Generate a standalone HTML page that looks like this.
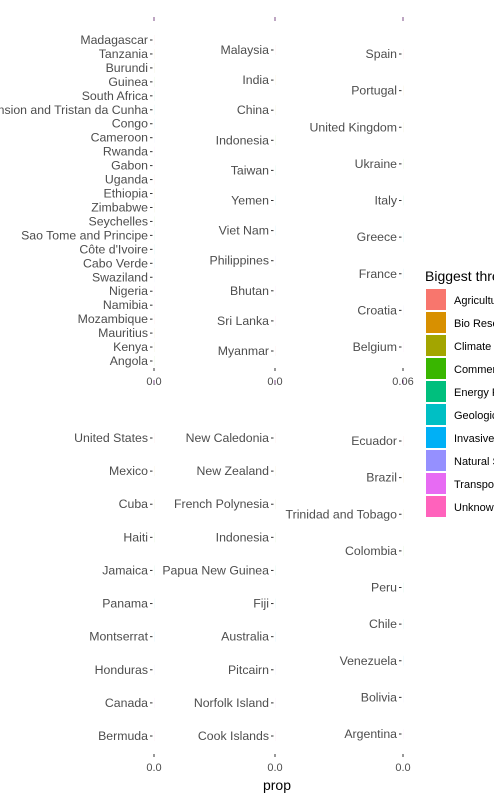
<!DOCTYPE html>
<html><head><meta charset="utf-8"><style>
body{margin:0;background:#fff;}
svg{display:block;font-family:"Liberation Sans",sans-serif;}
.lab{font-size:12.3px;fill:#4d4d4d;text-anchor:end;}
.tk{font-size:11px;fill:#4d4d4d;text-anchor:middle;}
</style></head><body>
<svg id="chart" width="494" height="800"></svg>
<script>
const panelNames=["Africa","Asia","Europe","North America","Oceania","South America"];
const africa=["Madagascar","Tanzania","Burundi","Guinea","South Africa","Ascension and Tristan da Cunha","Congo","Cameroon","Rwanda","Gabon","Uganda","Ethiopia","Zimbabwe","Seychelles","Sao Tome and Principe","Côte d'Ivoire","Cabo Verde","Swaziland","Nigeria","Namibia","Mozambique","Mauritius","Kenya","Angola"];
const asia=["Malaysia","India","China","Indonesia","Taiwan","Yemen","Viet Nam","Philippines","Bhutan","Sri Lanka","Myanmar"];
const europe=["Spain","Portugal","United Kingdom","Ukraine","Italy","Greece","France","Croatia","Belgium"];
const namerica=["United States","Mexico","Cuba","Haiti","Jamaica","Panama","Montserrat","Honduras","Canada","Bermuda"];
const oceania=["New Caledonia","New Zealand","French Polynesia","Indonesia","Papua New Guinea","Fiji","Australia","Pitcairn","Norfolk Island","Cook Islands"];
const samerica=["Ecuador","Brazil","Trinidad and Tobago","Colombia","Peru","Chile","Venezuela","Bolivia","Argentina"];
const africaVals=africa.map(()=>0.001);
const asiaVals=asia.map(()=>0.001);
const europeVals=europe.map(()=>0.001);
const namericaVals=namerica.map(()=>0.001);
const oceaniaVals=oceania.map(()=>0.001);
const samericaVals=samerica.map(()=>0.001);
const tickLabels=["0.0","0.0","0.06","0.0","0.0","0.0"];
const legendLabels=["Agriculture","Bio Resource Use","Climate Change","Commercial Dev.","Energy Production","Geological Events","Invasive Species","Natural System Mod.","Transportation","Unknown"];
const legendColors=["#F8766D","#D89000","#A3A500","#39B600","#00BF7D","#00BFC4","#00B0F6","#9590FF","#E76BF3","#FF62BC"];

const svg=document.getElementById('chart');
const NS='http://www.w3.org/2000/svg';
function mk(t,a){const e=document.createElementNS(NS,t);for(const k in a)e.setAttribute(k,a[k]);svg.appendChild(e);return e;}
const panels=[
 {names:africa,vals:africaVals,x:154,top:18,bot:368,first:40,last:361},
 {names:asia,vals:asiaVals,x:275,top:18,bot:368,first:50,last:351},
 {names:europe,vals:europeVals,x:403,top:18,bot:368,first:54,last:347},
 {names:namerica,vals:namericaVals,x:154,top:381,bot:754,first:438,last:736},
 {names:oceania,vals:oceaniaVals,x:275,top:381,bot:754,first:438,last:736},
 {names:samerica,vals:samericaVals,x:403,top:381,bot:754,first:441,last:734}];
panels.forEach((p,pi)=>{
  const n=p.names.length;
  const y=i=>p.first+(p.last-p.first)*i/(n-1);
  const xs=v=>v*50; // panel width squeezed to well under 1px
  const strip=mk('rect',{x:p.x-0.5,y:p.top-1,width:1,height:4,fill:'#440154','fill-opacity':0.7});
  
  
  p.names.forEach((nm,i)=>{
    const t=mk('text',{x:p.x-6,y:y(i)+4,class:'lab'});t.textContent=nm;
    
    
    mk('line',{x1:p.x-4,x2:p.x-1.5,y1:y(i),y2:y(i),stroke:'#333','stroke-width':1});
    const b=mk('rect',{x:p.x,y:y(i)-5,width:xs(p.vals[i]),height:10,fill:legendColors[i%10]});
    
    
  });
  mk('line',{x1:p.x,x2:p.x,y1:p.bot,y2:p.bot+3,stroke:'#333','stroke-width':1});
  const tt=mk('text',{x:p.x,y:p.bot+17,class:'tk'});tt.textContent=tickLabels[pi];
  
  
});
const xt=mk('text',{x:277,y:790,'font-size':14,'text-anchor':'middle',fill:'#000'});xt.textContent='prop';


const lt=mk('text',{x:425,y:281,'font-size':14,fill:'#000'});lt.textContent='Biggest threat';


legendLabels.forEach((l,i)=>{
  const yy=289+i*23;
  const r=mk('rect',{x:426,y:yy,width:20,height:21,fill:legendColors[i]});
  
  
  const t=mk('text',{x:454,y:yy+15,'font-size':11,fill:'#000'});t.textContent=l;
  
  
});
</script>
</body></html>
